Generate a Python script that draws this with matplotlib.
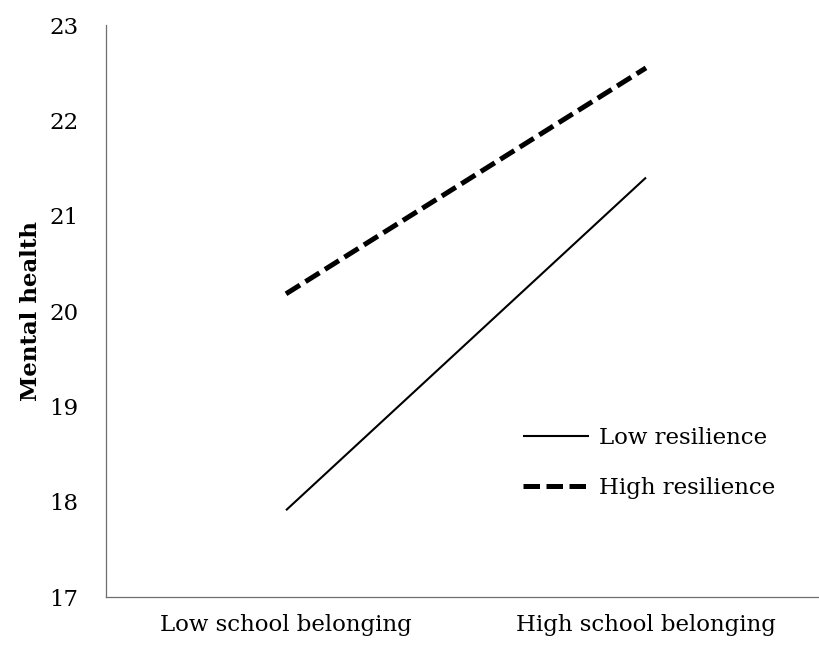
import matplotlib.pyplot as plt

# Dane
kategorie = ['Low school belonging', 'High school belonging']
low_resilience = [17.91, 21.40]
high_resilience = [20.18, 22.55]
serie = ['Low resilience', 'High resilience']
y_ticks = [17, 18, 19, 20, 21, 22, 23]

plt.rcParams['font.family'] = ['DejaVu Serif']
FS = 16.5

fig = plt.figure(figsize=(8.2, 6.5), dpi=100)
ax = fig.add_axes([106 / 820, 53 / 650, 720 / 820, 572 / 650])

x = list(range(len(kategorie)))
ax.plot(x, low_resilience, color='black', lw=1.5, solid_capstyle='butt',
        label=serie[0])
ax.plot(x, high_resilience, color='black', lw=3.6, dashes=(3.3, 1.3),
        dash_capstyle='butt', label=serie[1])

ax.set_xlim(-0.5, 1.5)
ax.set_ylim(17, 23)
ax.set_yticks(y_ticks)
ax.set_xticks(x)
ax.set_xticklabels(kategorie)
ax.tick_params(axis='both', length=0, labelsize=FS)
ax.tick_params(axis='y', pad=20)
ax.tick_params(axis='x', pad=12)

for s in ['top', 'right']:
    ax.spines[s].set_visible(False)
for s in ['left', 'bottom']:
    ax.spines[s].set_color('#6e6e6e')
    ax.spines[s].set_linewidth(0.9)

ax.set_ylabel('Mental health', fontsize=FS, fontweight='bold', labelpad=5)

ax.legend(loc='center left', bbox_to_anchor=(0.551, 0.234), frameon=False,
          fontsize=FS, handlelength=2.85, handletextpad=0.44, labelspacing=1.2)

fig.savefig('out.png', dpi=100)
